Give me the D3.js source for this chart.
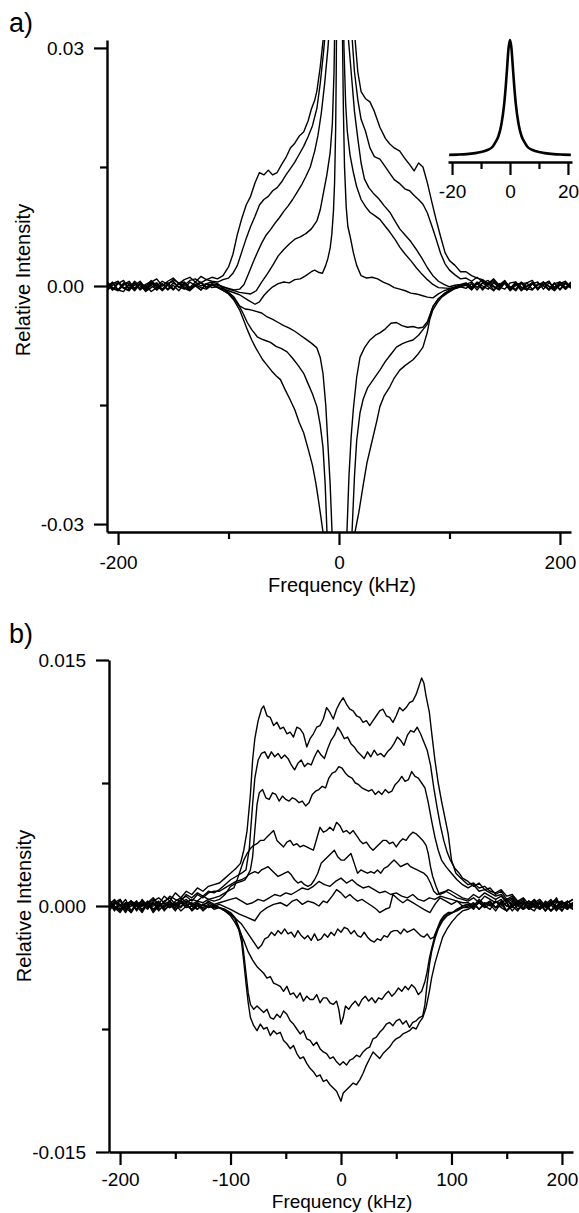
<!DOCTYPE html>
<html>
<head>
<meta charset="utf-8">
<script src="https://cdn.jsdelivr.net/npm/d3@7"></script>
<style>
  body { margin: 0; background: #fff; }
  svg { display: block; }
  text { font-family: "Liberation Sans", Arial, sans-serif; fill: #000; }
</style>
</head>
<body>
<svg id="fig" width="579" height="1213"></svg>
<script>
// values in units of 1e-3 (relative intensity), frequency in kHz

const wingLeft = [-210,-205,-200,-195,-190,-185,-180,-175,-170,-165,-160,-155,-150,-145,-140,-135,-130,-125,-120,-115]
const wingRight = [115,120,125,130,135,140,145,150,155,160,165,170,175,180,185,190,195,200,205,210]

// ---- panel a ----
const aTicksMajor = [-30, 0, 30]
const aTicksMinor = [-15, 15]
const aFreqMajor = [-200, 0, 200]
const aFreqMinor = [-100, 100]

const a1 = [[-110,0.9],[-105,1.3],[-100,2.4],[-96,4.0],[-92,6.5],[-88,8.5],[-84,10.2],[-80,11.3],[-76,13.0],[-72,14.3],[-68,14.0],[-64,14.6],[-60,14.0],[-56,14.3],[-52,15.3],[-48,16.2],[-44,17.4],[-40,18.0],[-36,18.9],[-32,19.4],[-28,20.8],[-25,22.3],[-22,23.4],[-20,24.6],[-17,27.6],[-14,31.5],[-11,37],[-8,46],[-5,65],[-3,90],[0,150],[3,90],[5,65],[8,48],[11,38],[14,32],[17,27],[20,24.5],[24,23.6],[28,23.2],[32,22.0],[37,20.0],[42,18.6],[46,17.9],[50,17.4],[55,17.0],[60,16.0],[64,15.3],[68,14.5],[72,15.5],[76,15.0],[80,13.0],[84,10.6],[88,8.3],[92,6.2],[96,4.2],[100,3.2],[105,2.6],[110,1.8]]
const a1L = [0.4,-0.5,0.3,0.7,-0.4,0.1,0.6,-0.3,0.5,0.9,0.0,0.6,1.0,0.3,0.8,1.1,0.5,1.2,0.8,1.1]
const a1R = [1.8,1.3,1.0,0.8,0.3,0.9,0.1,0.7,-0.3,0.5,-0.5,0.4,0.7,-0.4,0.2,0.6,-0.5,0.4,-0.2,0.5]

const a2 = [[-110,0.5],[-105,0.8],[-100,1.0],[-96,1.6],[-92,2.6],[-88,4.3],[-84,6.0],[-80,7.5],[-76,8.8],[-72,10.2],[-68,10.9],[-64,11.3],[-60,12.0],[-56,12.4],[-52,13.1],[-48,14.0],[-44,14.8],[-40,15.6],[-36,16.6],[-32,17.6],[-28,18.8],[-24,20.2],[-20,22.4],[-17,25.5],[-14,29.5],[-11,34],[-8,44],[-5,62],[-3,85],[0,140],[3,85],[5,60],[8,42],[11,33],[14,27],[17,23.5],[20,21.0],[24,19.5],[28,17.4],[32,16.3],[37,16.0],[42,15.0],[46,14.2],[50,13.4],[55,12.9],[60,12.2],[64,12.0],[68,11.4],[72,10.9],[76,10.3],[80,9.2],[84,7.6],[88,5.9],[92,4.1],[96,2.8],[100,2.0],[105,1.4],[110,0.9]]
const a2L = [-0.3,0.5,-0.5,0.2,0.6,-0.3,0.4,-0.1,0.7,0.0,0.6,0.2,0.8,0.4,0.1,0.7,0.9,0.4,0.8,0.6]
const a2R = [1.0,0.6,1.1,0.5,0.2,0.8,0.0,0.6,-0.2,-0.4,0.5,-0.1,0.4,-0.5,0.5,0.0,-0.4,0.3,0.6,-0.2]

const a3 = [[-110,0.1],[-100,-0.3],[-95,-0.5],[-90,-0.4],[-86,0.2],[-82,1.5],[-78,2.9],[-74,4.2],[-70,5.4],[-66,6.4],[-62,7.1],[-58,7.9],[-54,8.6],[-50,9.4],[-46,10.1],[-42,10.9],[-38,11.8],[-34,12.7],[-30,13.8],[-26,15.0],[-22,17.0],[-19,19.0],[-16,21.8],[-13,25.5],[-10,30],[-8,34],[-5,50],[-3,75],[0,130],[3,75],[5,50],[8,32],[11,27],[14,22],[17,18.6],[20,15.5],[23,13.5],[27,12.4],[31,11.7],[36,11.0],[41,10.1],[46,9.3],[51,8.1],[55,7.2],[60,6.4],[65,5.6],[70,4.6],[75,3.5],[80,2.3],[85,1.3],[90,0.6],[95,0.2],[100,-0.1],[105,0.1],[110,0.2]]
const a3L = [0.5,-0.2,-0.5,0.4,-0.3,0.6,0.0,-0.6,0.2,0.4,-0.4,0.3,0.6,-0.2,0.4,-0.3,0.2,0.5,-0.1,0.3]
const a3R = [0.4,-0.1,0.3,0.7,0.1,0.6,-0.1,-0.4,0.4,0.5,-0.2,-0.5,0.3,0.5,-0.4,0.4,-0.2,0.5,-0.4,0.2]

const a4 = [[-110,0.2],[-100,-0.4],[-90,-0.8],[-80,-1.0],[-75,-0.6],[-70,0.5],[-65,1.5],[-60,2.6],[-55,3.8],[-50,4.6],[-45,5.3],[-40,5.9],[-35,6.2],[-30,6.6],[-25,7.2],[-20,8.2],[-17,9.6],[-14,11.8],[-11,14.0],[-8,16.8],[-6,20.5],[-4.5,27],[-3,40],[-1.5,70],[0,120],[1.5,70],[3,42],[4.5,30],[6,23],[7.5,19.5],[10,16.5],[13,14.3],[16,12.5],[20,10.9],[24,10.0],[28,9.3],[33,8.8],[37,8.4],[42,7.5],[46,6.8],[51,5.8],[55,4.9],[60,4.0],[65,3.2],[70,2.3],[75,1.5],[80,0.8],[85,0.2],[90,-0.2],[100,-0.3],[110,0.1]]
const a4L = [-0.5,0.3,0.6,-0.2,-0.5,0.4,-0.3,0.2,0.6,-0.5,0.1,0.4,-0.4,0.3,0.5,-0.2,0.5,0.0,0.3,0.1]
const a4R = [0.2,0.5,-0.2,0.4,0.7,0.0,-0.4,0.4,-0.1,-0.6,0.3,0.4,-0.4,0.1,0.5,-0.5,0.3,-0.4,0.4,-0.1]

const a5 = [[-110,-0.1],[-100,-0.6],[-90,-1.1],[-82,-1.8],[-76,-2.3],[-72,-2.0],[-68,-1.2],[-64,-0.6],[-60,-0.1],[-55,0.3],[-50,0.5],[-45,0.4],[-40,0.8],[-35,0.9],[-30,1.3],[-25,1.8],[-22,2.0],[-18,1.7],[-15,1.6],[-12,2.6],[-10,3.5],[-8,4.8],[-6.5,6.5],[-5,9.5],[-4,13],[-3,20],[-2.5,27],[-2,38],[-1,70],[0,110],[1,70],[2,45],[3,33],[4,22],[5,15],[6.5,10],[8,7.5],[10,6.3],[13,4.2],[16,2.6],[20,1.3],[25,1.0],[30,1.1],[35,0.9],[40,0.5],[45,0.2],[50,-0.2],[55,-0.4],[60,-0.6],[65,-0.9],[70,-1.0],[75,-1.2],[80,-1.4],[85,-1.5],[90,-1.0],[95,-0.6],[100,-0.4],[105,-0.2],[110,0.1]]
const a5L = [0.3,-0.5,0.4,-0.3,0.1,-0.6,0.3,-0.5,0.4,-0.1,-0.5,0.3,-0.4,0.4,-0.1,-0.5,0.2,-0.2,-0.4,0.1]
const a5R = [0.3,-0.2,0.5,0.0,-0.4,0.4,-0.2,0.6,-0.5,0.2,-0.1,-0.5,0.4,-0.3,0.2,0.6,-0.5,0.1,0.4,-0.3]

const a6 = [[-110,0.3],[-100,-0.8],[-95,-1.4],[-90,-2.5],[-85,-2.9],[-80,-3.0],[-75,-3.2],[-70,-3.4],[-65,-3.9],[-60,-4.2],[-55,-4.6],[-50,-5.0],[-45,-5.3],[-40,-5.7],[-35,-6.2],[-30,-6.7],[-25,-7.2],[-20,-7.8],[-17,-9.0],[-14.5,-11],[-12,-15],[-10,-20],[-8,-25],[-6.3,-31],[-4,-45],[-2,-70],[0,-100],[2,-70],[4,-50],[6,-38],[7.2,-31],[9,-24],[11,-19],[13,-15.5],[16,-11.5],[19,-9.0],[23,-7.8],[28,-6.8],[33,-6.2],[37,-5.9],[42,-5.4],[47,-4.7],[52,-4.6],[57,-5.0],[62,-5.2],[67,-5.1],[72,-5.3],[76,-5.2],[80,-4.5],[85,-2.6],[90,-1.6],[95,-1.0],[100,-0.6],[105,-0.3],[110,-0.1]]
const a6L = [0.1,0.4,-0.5,-0.7,0.3,-0.3,0.4,-0.6,0.1,-0.5,0.3,-0.4,0.4,-0.1,-0.4,0.5,0.0,-0.5,0.3,0.5]
const a6R = [-0.3,0.3,-0.5,0.4,-0.1,-0.6,0.3,0.4,-0.4,0.1,0.4,-0.5,0.3,-0.3,0.5,-0.1,-0.6,0.2,-0.4,0.4]

const a7 = [[-110,-0.2],[-100,-0.9],[-95,-1.6],[-90,-2.6],[-87,-3.4],[-83,-4.6],[-79,-5.5],[-74,-6.4],[-70,-6.7],[-66,-6.9],[-62,-7.1],[-57,-7.6],[-52,-7.9],[-47,-8.3],[-42,-9.1],[-37,-10.0],[-32,-11.0],[-28,-12.3],[-24,-13.6],[-20,-15.2],[-17,-17.5],[-14.5,-20.3],[-12.5,-25],[-10.9,-31],[-8,-45],[-5,-65],[0,-110],[5,-70],[8,-50],[10,-38],[11.8,-31],[14,-24],[16,-19.5],[19,-16],[22,-14.2],[26,-12.8],[31,-11.8],[37,-10.6],[42,-9.5],[47,-8.6],[52,-7.7],[57,-7.3],[62,-7.0],[67,-6.8],[72,-6.2],[76,-5.5],[80,-4.8],[85,-2.6],[90,-1.6],[95,-1.0],[100,-0.5],[105,-0.2],[110,0.1]]
const a7L = [-0.6,0.1,0.4,-0.3,-0.6,0.3,-0.5,0.1,-0.7,-0.2,0.3,-0.5,0.1,-0.6,0.3,-0.5,0.0,0.4,-0.3,0.2]
const a7R = [0.2,-0.4,0.4,-0.5,0.3,-0.1,-0.5,0.4,-0.3,0.3,-0.6,0.0,0.4,-0.3,0.1,-0.5,0.3,0.5,-0.3,0.1]

const a8 = [[-110,-0.1],[-100,-1.0],[-95,-1.8],[-90,-3.0],[-86,-4.4],[-83,-5.5],[-79,-6.8],[-75,-7.9],[-72,-8.6],[-69,-9.3],[-65,-10.0],[-61,-10.7],[-57,-11.3],[-53,-11.8],[-49,-13.0],[-44,-14.4],[-40,-15.6],[-36,-17.2],[-32,-18.5],[-28,-20.5],[-24,-22.6],[-21,-24.8],[-19,-26.6],[-16.5,-29],[-14.5,-31],[-10,-42],[-5,-70],[0,-120],[5,-75],[10,-46],[14.5,-31],[18,-28.5],[22,-25.0],[25.3,-22.3],[30,-19.5],[34.4,-16.9],[37,-15.2],[41,-13.8],[46,-12.7],[50,-11.6],[55,-10.6],[60,-10.0],[67,-9.3],[72,-8.5],[76,-7.7],[80,-5.8],[82,-4.3],[85,-3.0],[89,-2.1],[93,-1.4],[98,-0.9],[104,-0.4],[110,-0.1]]
const a8L = [0.3,-0.3,-0.6,0.1,0.4,-0.5,0.3,-0.7,-0.2,0.3,-0.6,0.1,-0.5,0.3,-0.3,-0.6,0.1,-0.5,0.3,-0.2]
const a8R = [0.1,-0.5,0.3,-0.3,0.4,-0.5,0.1,0.3,-0.6,0.1,0.4,-0.3,-0.5,0.3,0.0,-0.4,0.4,-0.5,0.3,-0.2]

// inset of panel a (normalised line)
const insetFreq = [-21,-18,-15,-12,-10,-8,-6,-5,-4,-3,-2,-1.5,-1,-0.5,0,0.5,1,1.5,2,3,4,5,6,8,10,12,15,18,21]
const insetVal = [0.01,0.012,0.016,0.025,0.035,0.05,0.08,0.12,0.17,0.27,0.45,0.59,0.76,0.93,1.0,0.93,0.76,0.59,0.45,0.27,0.17,0.12,0.08,0.05,0.035,0.025,0.016,0.012,0.01]
const insetMajor = [-20, 0, 20]
const insetMinor = [-10, 10]

// ---- panel b ----
const bTicksMajor = [-15, 0, 15]
const bTicksMinor = [-7.5, 7.5]
const bFreqMajor = [-200, -100, 0, 100, 200]
const bFreqMinor = [-150, -50, 50, 150]

const b1 = [[-110,1.4],[-105,1.7],[-100,2.0],[-95,2.3],[-91,2.6],[-88,3.4],[-85,4.6],[-82,6.8],[-80,8.9],[-78,10.2],[-75,11.3],[-72,12.0],[-70,12.2],[-67,11.6],[-64,11.5],[-61,11.0],[-58,11.2],[-55,10.8],[-52,10.9],[-49,10.5],[-46,10.6],[-43,10.3],[-40,10.9],[-37,10.8],[-34,10.5],[-31,9.7],[-28,10.2],[-25,10.5],[-22,10.9],[-19,11.0],[-16,11.4],[-13,12.1],[-10,11.8],[-7,11.4],[-4,12.0],[-1,12.4],[2,12.7],[5,12.3],[8,12.0],[11,11.9],[14,11.6],[17,11.5],[20,11.2],[23,11.3],[26,11.0],[29,11.3],[32,11.6],[35,11.9],[38,12.0],[41,11.6],[44,11.5],[47,11.2],[50,11.6],[53,12.1],[56,11.9],[59,12.1],[62,12.4],[65,12.5],[68,12.9],[71,13.5],[73,13.9],[75,13.6],[77,12.8],[80,11.8],[82,10.6],[85,8.9],[88,7.5],[91,6.4],[94,5.4],[97,4.4],[100,2.8],[104,2.0],[110,1.6]]
const b1L = [0.2,-0.3,0.4,-0.1,0.3,0.0,-0.4,0.2,0.5,0.1,0.6,0.3,0.8,0.5,0.9,0.7,1.1,0.9,1.2,1.3]
const b1R = [1.3,1.4,1.1,1.2,0.9,0.8,1.0,0.6,0.7,0.3,0.5,0.1,0.4,-0.2,0.3,0.0,0.5,-0.3,0.2,0.4]

const b2 = [[-110,1.0],[-105,1.3],[-100,1.6],[-95,1.8],[-90,2.0],[-86,2.2],[-83,3.5],[-80,6.2],[-78,7.8],[-75,8.9],[-72,9.3],[-69,9.4],[-66,9.0],[-63,9.4],[-60,9.1],[-57,9.3],[-54,9.0],[-51,9.2],[-48,9.0],[-45,8.6],[-42,8.3],[-39,8.7],[-36,8.9],[-33,8.5],[-30,8.7],[-27,8.6],[-24,9.1],[-21,9.5],[-18,9.2],[-15,9.0],[-12,9.6],[-9,10.1],[-6,10.4],[-3,10.9],[0,10.6],[3,10.2],[6,10.3],[9,9.9],[12,9.7],[15,9.4],[18,9.2],[21,9.0],[24,9.4],[27,9.1],[30,9.5],[33,9.2],[36,9.3],[39,9.1],[42,9.4],[45,9.6],[48,9.9],[51,10.3],[54,10.1],[57,9.8],[60,10.4],[63,10.7],[66,10.6],[69,10.9],[72,10.5],[75,10.0],[78,9.5],[81,8.6],[84,7.2],[87,6.0],[90,4.9],[93,4.0],[96,3.3],[99,2.8],[103,2.3],[107,2.0],[110,1.7]]
const b2L = [-0.2,0.3,0.0,0.4,-0.3,0.2,0.1,-0.2,0.3,0.5,0.2,0.6,0.4,0.3,0.7,0.5,0.8,0.6,0.9,0.8]
const b2R = [1.5,1.2,1.4,1.0,1.1,0.7,0.9,0.4,0.6,0.2,0.4,-0.1,0.3,0.1,-0.3,0.2,0.4,-0.1,0.3,0.0]

const b3 = [[-110,0.9],[-105,1.1],[-100,1.3],[-95,1.5],[-90,1.6],[-85,1.8],[-82,2.2],[-80,3.0],[-78,4.6],[-76,6.2],[-74,6.9],[-71,7.1],[-68,6.6],[-65,6.5],[-62,6.9],[-59,6.8],[-56,6.4],[-53,6.7],[-50,6.5],[-47,6.4],[-44,6.6],[-41,6.5],[-38,6.3],[-35,6.4],[-32,6.1],[-29,6.3],[-26,6.8],[-23,7.0],[-20,7.1],[-17,7.3],[-14,7.2],[-11,7.8],[-8,8.1],[-5,8.2],[-2,8.5],[1,8.4],[4,8.1],[7,7.9],[10,7.8],[13,7.5],[16,7.4],[19,7.2],[22,7.1],[25,7.0],[28,7.1],[31,6.8],[34,7.0],[37,6.8],[40,7.1],[43,6.9],[46,7.0],[49,7.4],[52,7.6],[55,7.9],[58,7.6],[61,7.7],[64,8.2],[67,7.9],[70,7.8],[73,7.5],[76,7.2],[79,6.3],[82,5.2],[85,4.2],[88,3.4],[91,2.8],[95,2.4],[100,2.0],[105,1.6],[110,1.3]]
const b3L = [0.4,0.0,-0.3,0.2,0.1,-0.2,0.4,0.0,0.2,-0.1,0.3,0.5,0.1,0.4,0.6,0.3,0.7,0.5,0.8,0.9]
const b3R = [1.1,1.3,0.9,1.0,0.8,0.6,0.7,0.3,0.5,0.1,0.3,-0.2,0.2,0.4,0.0,-0.3,0.2,0.3,-0.2,0.1]

const b4 = [[-110,0.6],[-105,0.8],[-100,1.0],[-97,1.1],[-94,1.6],[-91,2.2],[-88,2.8],[-85,3.2],[-82,3.5],[-79,3.7],[-76,3.8],[-73,4.0],[-70,4.0],[-67,4.2],[-64,4.4],[-61,4.6],[-58,4.0],[-55,3.8],[-52,3.6],[-49,3.9],[-46,4.0],[-43,3.7],[-40,3.8],[-37,3.6],[-34,3.7],[-31,3.6],[-28,3.5],[-25,3.4],[-22,4.1],[-19,4.8],[-16,4.5],[-13,4.6],[-10,4.8],[-7,4.6],[-4,5.1],[-1,4.9],[2,4.5],[5,4.6],[8,4.4],[11,4.6],[14,4.3],[17,4.0],[20,3.8],[23,3.9],[26,3.6],[29,3.4],[32,3.6],[35,3.8],[38,4.0],[41,4.0],[44,3.8],[47,3.9],[50,3.6],[53,3.9],[56,4.1],[59,4.0],[62,4.3],[65,4.5],[68,4.4],[71,4.2],[74,4.0],[77,3.7],[79,3.2],[81,2.4],[83,1.8],[86,1.2],[89,0.7],[93,0.8],[97,1.0],[100,0.9],[105,0.7],[110,0.5]]
const b4L = [-0.1,0.2,0.4,-0.2,0.0,0.3,-0.3,0.1,0.4,0.0,0.2,-0.1,0.3,0.5,0.2,0.4,0.3,0.6,0.4,0.5]
const b4R = [0.4,0.7,0.5,0.8,0.6,0.4,0.6,0.2,0.4,0.0,0.3,-0.2,0.1,0.3,-0.1,0.2,0.0,-0.3,0.2,0.4]

const b5 = [[-110,0.4],[-105,0.7],[-100,1.2],[-95,1.4],[-90,1.5],[-87,1.6],[-84,1.9],[-81,2.0],[-78,2.1],[-75,2.0],[-72,2.2],[-69,2.3],[-66,2.4],[-63,2.2],[-60,2.0],[-57,1.8],[-54,1.9],[-51,2.0],[-48,2.1],[-45,1.9],[-42,1.6],[-39,1.4],[-36,1.5],[-33,1.3],[-30,1.2],[-27,1.3],[-24,1.6],[-21,2.0],[-18,2.6],[-15,2.8],[-12,3.0],[-9,3.2],[-6,3.4],[-3,3.0],[0,2.8],[3,2.8],[6,3.0],[9,3.2],[12,2.6],[15,2.0],[18,2.2],[21,2.1],[24,2.0],[27,2.1],[30,2.0],[33,2.2],[36,2.0],[39,2.3],[42,2.4],[45,2.6],[48,2.8],[51,2.6],[54,2.4],[57,2.5],[60,2.6],[63,2.4],[66,2.3],[69,2.2],[72,2.1],[75,2.0],[78,1.8],[81,1.4],[84,0.9],[87,0.7],[90,0.8],[95,0.9],[100,0.7],[105,0.5],[110,0.4]]
const b5L = [0.3,-0.2,0.1,-0.4,0.2,0.0,0.3,-0.1,0.2,-0.3,0.1,0.3,0.0,0.2,0.4,0.1,0.3,0.2,0.4,0.3]
const b5R = [0.3,0.5,0.2,0.6,0.4,0.2,0.4,0.0,0.3,-0.2,0.1,0.3,-0.1,0.2,-0.3,0.1,0.3,0.0,-0.2,0.2]

const b6 = [[-110,0.2],[-100,0.4],[-95,0.5],[-90,0.3],[-85,0.1],[-80,0.2],[-75,0.4],[-70,0.3],[-65,0.5],[-60,0.7],[-55,0.6],[-50,0.8],[-45,0.7],[-40,0.9],[-35,1.1],[-30,1.0],[-25,1.2],[-20,1.5],[-15,1.3],[-10,1.2],[-5,1.5],[0,1.7],[5,1.4],[10,1.6],[15,1.3],[20,1.1],[25,1.2],[30,1.0],[35,0.8],[40,0.9],[45,0.7],[50,0.8],[55,0.6],[60,0.5],[65,0.7],[70,0.4],[75,0.3],[80,0.5],[85,0.4],[90,0.6],[95,0.5],[100,0.4],[105,0.3],[110,0.2]]
const b6L = [-0.3,0.1,0.3,-0.1,-0.4,0.2,0.0,0.3,-0.2,0.1,-0.1,0.2,0.0,0.3,0.1,-0.2,0.2,0.0,0.3,0.1]
const b6R = [0.2,0.0,0.4,0.1,0.3,-0.1,0.2,0.4,0.0,-0.3,0.2,0.0,0.3,-0.2,0.1,0.4,-0.1,0.2,0.0,-0.2]

const b7 = [[-110,0.1],[-100,-0.2],[-92,-0.5],[-85,-0.7],[-78,-0.9],[-73,-0.4],[-67,-0.1],[-61,0.1],[-55,0.2],[-49,0.0],[-44,0.3],[-40,0.4],[-35,0.1],[-30,0.3],[-25,0.2],[-20,0.0],[-16,0.3],[-12.7,0.2],[-8,0.6],[-4,1.0],[0,0.8],[4,0.5],[8,0.7],[11,0.5],[15,0.3],[19,0.4],[23.5,0.2],[28,0.0],[32,-0.2],[35,-0.4],[40,-0.2],[44,-0.1],[47,0.7],[52,0.4],[56,0.2],[60,0.4],[65,0.2],[70,0.0],[75,-0.2],[80.5,-0.4],[85,0.1],[89.6,0.5],[95,0.3],[100,0.1],[105,0.3],[110,0.0]]
const b7L = [0.1,0.4,-0.2,0.0,0.3,-0.3,0.2,-0.1,0.1,0.3,-0.2,0.0,0.2,-0.1,0.3,0.0,-0.2,0.1,0.2,0.0]
const b7R = [0.1,-0.2,0.3,0.0,0.2,-0.1,0.3,-0.3,0.1,0.2,-0.2,0.0,0.4,-0.1,0.2,-0.3,0.0,0.3,-0.1,0.1]

const b8 = [[-110,-0.1],[-105,-0.3],[-100,-0.5],[-95,-0.8],[-90,-1.1],[-86,-1.5],[-82,-1.9],[-78,-2.3],[-75,-2.6],[-72,-2.4],[-69,-2.0],[-66,-1.9],[-63,-1.6],[-60,-1.8],[-57,-1.5],[-54,-1.7],[-51,-1.4],[-48,-1.7],[-45,-1.6],[-42,-1.9],[-39,-1.5],[-36,-1.8],[-33,-2.0],[-30,-1.8],[-27,-2.1],[-24,-1.7],[-21,-2.1],[-18,-2.0],[-15,-1.7],[-12,-1.9],[-9,-1.6],[-6,-1.8],[-3,-1.4],[0,-1.6],[3,-1.3],[6,-1.4],[9,-1.7],[12,-1.5],[15,-1.8],[18,-1.9],[21,-1.6],[24,-1.9],[27,-2.1],[30,-2.2],[33,-2.0],[36,-2.1],[39,-1.8],[42,-1.9],[45,-1.6],[48,-1.5],[51,-1.5],[54,-1.7],[57,-1.4],[60,-1.6],[63,-1.5],[66,-1.4],[69,-1.6],[72,-1.8],[75,-1.9],[78,-1.7],[81,-2.0],[84,-1.9],[87,-1.4],[90,-0.9],[93,-0.6],[97,-0.4],[101,-0.4],[105,-0.2],[110,0.0]]
const b8L = [-0.2,0.2,0.0,-0.3,0.3,0.1,-0.2,0.2,-0.4,0.0,0.2,-0.1,0.1,-0.3,0.0,0.2,-0.2,0.1,-0.1,0.0]
const b8R = [0.1,-0.1,0.2,0.0,-0.2,0.3,0.1,-0.3,0.0,0.2,-0.1,0.3,0.0,-0.2,0.2,0.1,-0.3,0.1,0.3,-0.1]

const b9 = [[-110,-0.1],[-105,-0.3],[-100,-0.6],[-96,-1.0],[-92,-1.5],[-88,-2.1],[-84,-2.8],[-80,-3.3],[-76,-3.7],[-73,-3.9],[-70,-4.1],[-67,-4.4],[-64,-4.3],[-61,-4.7],[-58,-4.8],[-55,-4.9],[-52,-5.2],[-49,-4.9],[-46,-5.4],[-43,-5.3],[-40,-5.6],[-37,-5.3],[-34,-5.8],[-31,-5.5],[-28,-5.7],[-25,-5.7],[-22,-5.4],[-19,-5.9],[-16,-5.6],[-13,-5.6],[-10,-5.9],[-7,-6.0],[-4,-5.8],[-2,-6.3],[0,-7.2],[2,-6.8],[4,-6.1],[7,-6.3],[10,-6.0],[13,-5.8],[16,-6.1],[19,-5.7],[22,-5.5],[25,-5.8],[28,-5.6],[31,-5.9],[34,-5.6],[37,-5.7],[40,-5.4],[43,-5.2],[46,-5.5],[49,-5.3],[52,-5.0],[55,-5.2],[58,-4.9],[61,-5.1],[64,-4.8],[67,-5.0],[70,-5.4],[73,-5.2],[76,-4.6],[78,-4.0],[80,-3.2],[82,-2.6],[85,-1.8],[88,-1.3],[92,-0.8],[96,-0.5],[101,-0.4],[105,-0.3],[110,-0.1]]
const b9L = [0.2,-0.1,-0.4,0.1,0.3,-0.2,0.0,0.2,-0.3,0.1,-0.1,0.3,-0.2,0.0,0.2,-0.3,0.0,-0.1,0.1,-0.2]
const b9R = [0.0,0.2,-0.2,0.1,0.3,-0.1,0.0,0.2,-0.3,0.1,0.3,-0.1,-0.3,0.2,0.0,0.3,-0.2,0.1,-0.1,0.2]

const b10 = [[-110,-0.1],[-105,-0.2],[-100,-0.4],[-96,-0.7],[-93,-1.2],[-90,-1.8],[-88,-2.9],[-86,-4.1],[-84,-5.3],[-82,-6.0],[-79,-6.3],[-76,-6.1],[-73,-6.3],[-70,-6.5],[-67,-6.3],[-64,-6.8],[-61,-6.9],[-58,-6.6],[-55,-6.8],[-52,-6.4],[-49,-6.6],[-46,-7.0],[-43,-7.2],[-40,-7.5],[-37,-7.8],[-34,-7.6],[-31,-8.1],[-28,-8.2],[-25,-8.5],[-22,-8.3],[-19,-8.7],[-16,-8.9],[-13,-9.0],[-10,-9.3],[-7,-9.2],[-4,-9.5],[-1,-9.7],[2,-9.5],[5,-9.7],[8,-9.4],[11,-9.3],[14,-9.1],[17,-9.2],[20,-8.9],[23,-8.7],[26,-8.6],[29,-8.1],[32,-8.0],[35,-7.7],[38,-7.5],[41,-7.2],[44,-7.1],[47,-7.3],[50,-7.0],[53,-6.9],[56,-7.2],[59,-7.0],[62,-7.4],[65,-7.1],[68,-7.0],[71,-6.8],[74,-6.7],[76,-6.0],[78,-4.7],[80,-3.6],[82,-2.8],[85,-2.0],[88,-1.4],[92,-0.9],[96,-0.6],[101,-0.4],[105,-0.2],[110,-0.1]]
const b10L = [-0.1,0.3,0.1,-0.2,0.0,0.3,-0.3,0.1,0.2,-0.2,0.0,0.1,-0.3,0.2,-0.1,0.0,0.2,-0.2,0.0,-0.1]
const b10R = [-0.1,0.1,-0.2,0.2,0.0,0.3,-0.1,-0.3,0.2,0.0,-0.2,0.3,0.1,-0.1,0.2,-0.3,0.0,0.2,0.1,-0.2]

const b11 = [[-110,-0.1],[-105,-0.3],[-100,-0.5],[-96,-0.8],[-93,-1.3],[-90,-2.2],[-88,-3.4],[-86,-4.7],[-84,-5.9],[-82,-6.8],[-79,-7.3],[-76,-7.6],[-73,-7.2],[-70,-7.5],[-67,-7.4],[-64,-7.9],[-61,-7.6],[-58,-7.8],[-55,-7.7],[-52,-8.2],[-49,-8.4],[-46,-8.7],[-43,-8.5],[-40,-9.0],[-37,-9.3],[-34,-9.2],[-31,-9.6],[-28,-9.9],[-25,-10.1],[-22,-10.4],[-19,-10.3],[-16,-10.7],[-13,-10.6],[-10,-10.9],[-7,-11.1],[-4,-11.3],[-2,-11.6],[0,-11.9],[2,-11.4],[5,-11.2],[8,-11.0],[11,-10.8],[14,-10.9],[17,-10.6],[20,-10.2],[23,-9.7],[26,-9.3],[29,-8.9],[32,-9.1],[35,-9.3],[38,-9.0],[41,-8.8],[44,-8.6],[47,-8.3],[50,-8.1],[53,-8.0],[56,-7.8],[59,-7.7],[62,-7.6],[65,-7.4],[68,-7.5],[71,-7.1],[74,-6.8],[77,-6.2],[80,-5.2],[82,-4.4],[85,-3.5],[88,-2.8],[92,-1.9],[96,-1.4],[100,-1.0],[105,-0.6],[110,-0.3]]
const b11L = [0.3,0.0,-0.2,0.2,-0.4,0.1,0.3,-0.1,0.0,0.2,-0.3,0.1,-0.1,0.2,0.0,-0.2,0.1,-0.3,0.0,0.1]
const b11R = [-0.2,0.0,0.2,-0.1,0.1,-0.3,0.2,0.0,-0.1,0.3,0.1,-0.2,0.0,0.2,-0.3,0.1,0.3,-0.1,0.0,0.2]

const seriesA = [[a1L,a1,a1R],[a2L,a2,a2R],[a3L,a3,a3R],[a4L,a4,a4R],[a5L,a5,a5R],[a6L,a6,a6R],[a7L,a7,a7R],[a8L,a8,a8R]]
const seriesB = [[b1L,b1,b1R],[b2L,b2,b2R],[b3L,b3,b3R],[b4L,b4,b4R],[b5L,b5,b5R],[b6L,b6,b6R],[b7L,b7,b7R],[b8L,b8,b8R],[b9L,b9,b9R],[b10L,b10,b10R],[b11L,b11,b11R]]

const build = ([left, core, right]) => [
    ...wingLeft.map((f, i) => [f, left[i]]),
    ...core,
    ...wingRight.map((f, i) => [f, right[i]])
]

const svg = d3.select('#fig')
const plain = d => String(d)

const drawPanel = (p) => {
    const x = d3.scaleLinear().domain([-210, 210]).range([p.left, p.right])
    const y = d3.scaleLinear().domain(p.yDomain).range([p.bottom, p.top])

    svg.append('clipPath').attr('id', p.id + '-clip')
        .append('rect')
        .attr('x', p.left).attr('y', p.top)
        .attr('width', p.right - p.left).attr('height', p.bottom - p.top)

    const line = d3.line().x(d => x(d[0])).y(d => y(d[1]))

    svg.append('g')
        .attr('clip-path', `url(#${p.id}-clip)`)
        .selectAll('path')
        .data(p.series.map(build))
        .join('path')
        .attr('d', line)
        .attr('fill', 'none')
        .attr('stroke', '#000')
        .attr('stroke-width', 1.4)
        .attr('stroke-linejoin', 'round')

    // y axis
    svg.append('g')
        .attr('transform', `translate(${p.left},0)`)
        .call(d3.axisLeft(y).tickValues(p.yMajor).tickSize(13).tickSizeOuter(0).tickPadding(10).tickFormat(p.yFormat))
    svg.append('g')
        .attr('transform', `translate(${p.left},0)`)
        .call(d3.axisLeft(y).tickValues(p.yMinor).tickSize(7).tickSizeOuter(0).tickFormat(''))
        .call(g => g.select('.domain').remove())

    // x axis
    svg.append('g')
        .attr('transform', `translate(0,${p.bottom})`)
        .call(d3.axisBottom(x).tickValues(p.xMajor).tickSize(13).tickSizeOuter(0).tickPadding(p.xPad).tickFormat(plain))
    svg.append('g')
        .attr('transform', `translate(0,${p.bottom})`)
        .call(d3.axisBottom(x).tickValues(p.xMinor).tickSize(7).tickSizeOuter(0).tickFormat(''))
        .call(g => g.select('.domain').remove())

    svg.append('text')
        .attr('transform', `translate(${p.yTitleX},${p.yTitleY}) rotate(-90)`)
        .attr('text-anchor', 'middle')
        .attr('font-size', 20)
        .text('Relative Intensity')

    svg.append('text')
        .attr('x', 342).attr('y', p.xTitleY)
        .attr('text-anchor', 'middle')
        .attr('font-size', p.xTitleSize)
        .text('Frequency (kHz)')

    svg.append('text')
        .attr('x', 9).attr('y', p.tagY)
        .attr('font-size', 27)
        .text(p.tag)
}

drawPanel({
    id: 'pa', tag: 'a)', tagY: 32,
    left: 107, right: 571, top: 40, bottom: 532,
    yDomain: [-31, 31], yMajor: aTicksMajor, yMinor: aTicksMinor,
    yFormat: d => (d / 1000).toFixed(2),
    xMajor: aFreqMajor, xMinor: aFreqMinor, xPad: 11,
    series: seriesA, yTitleX: 30, yTitleY: 280, xTitleY: 592, xTitleSize: 20
})

drawPanel({
    id: 'pb', tag: 'b)', tagY: 643,
    left: 109, right: 573, top: 660, bottom: 1152,
    yDomain: [-15, 15], yMajor: bTicksMajor, yMinor: bTicksMinor,
    yFormat: d => (d / 1000).toFixed(3),
    xMajor: bFreqMajor, xMinor: bFreqMinor, xPad: 8,
    series: seriesB, yTitleX: 31, yTitleY: 906, xTitleY: 1208, xTitleSize: 19
})

// inset
const xI = d3.scaleLinear().domain([-21.4, 21.4]).range([448, 572])
const yI = d3.scaleLinear().domain([0, 1]).range([156, 40])

svg.append('path')
    .datum(insetFreq.map((f, i) => [f, insetVal[i]]))
    .attr('d', d3.line().x(d => xI(d[0])).y(d => yI(d[1])).curve(d3.curveMonotoneX))
    .attr('fill', 'none')
    .attr('stroke', '#000')
    .attr('stroke-width', 2.6)

svg.append('g')
    .attr('transform', 'translate(0,162)')
    .call(d3.axisBottom(xI).tickValues(insetMajor).tickSize(13).tickSizeOuter(0).tickPadding(10).tickFormat(plain))
svg.append('g')
    .attr('transform', 'translate(0,162)')
    .call(d3.axisBottom(xI).tickValues(insetMinor).tickSize(7).tickSizeOuter(0).tickFormat(''))
    .call(g => g.select('.domain').remove())

// common axis styling
svg.selectAll('.domain').attr('stroke', '#000').attr('stroke-width', 2.4)
svg.selectAll('.tick line').attr('stroke', '#000').attr('stroke-width', 2.2)
svg.selectAll('.tick text')
    .attr('font-size', 19)
    .attr('font-family', '"Liberation Sans", Arial, sans-serif')
    .attr('fill', '#000')
</script>
</body>
</html>
